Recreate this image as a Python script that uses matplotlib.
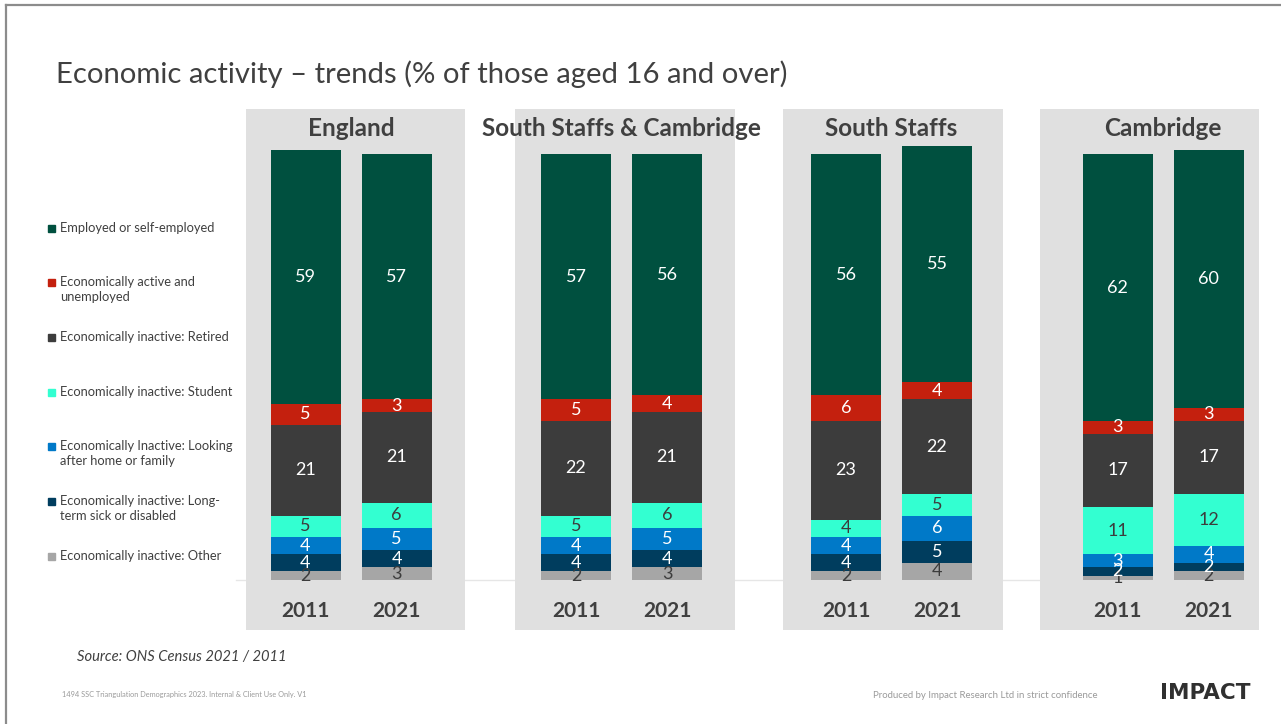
import numpy as np
import matplotlib
matplotlib.use("Agg")
import matplotlib.pyplot as plt
from matplotlib.lines import Line2D
from matplotlib.patches import Rectangle

plt.rcParams['font.family'] = ['Lato', 'DejaVu Sans']

W, H = 1281, 724

regions = ["England", "South Staffs & Cambridge", "South Staffs", "Cambridge"]
years = ["2011", "2021"]

categories = [
    "Employed or self-employed",
    "Economically active and\nunemployed",
    "Economically inactive: Retired",
    "Economically inactive: Student",
    "Economically Inactive: Looking\nafter home or family",
    "Economically inactive: Long-\nterm sick or disabled",
    "Economically inactive: Other",
]

# one value per bar: England 2011, 2021, SS&C 2011, 2021, South Staffs 2011, 2021, Cambridge 2011, 2021
employed = [59, 57, 57, 56, 56, 55, 62, 60]
unemployed = [5, 3, 5, 4, 6, 4, 3, 3]
retired = [21, 21, 22, 21, 23, 22, 17, 17]
student = [5, 6, 5, 6, 4, 5, 11, 12]
home = [4, 5, 4, 5, 4, 6, 3, 4]
sick = [4, 4, 4, 4, 4, 5, 2, 2]
other = [2, 3, 2, 3, 2, 4, 1, 2]

series = [employed, unemployed, retired, student, home, sick, other]
colors = ["#00503F", "#C4200E", "#3C3C3C", "#33FFD1", "#0079C8", "#003D5E", "#A6A6A6"]
label_colors = ["white", "white", "white", "#3C3C3C", "white", "white", "#3C3C3C"]

# panel boxes and bar centres in pixels
panels = [(246, 465, 305.5), (515, 735, 576), (783, 1003, 846), (1040, 1259, 1117.5)]
top, bottom = 109, 630
base_y, full_y = 580, 150
step = 91
ppu = (base_y - full_y) / 100.0


def fx(x):
    return x / W


def fy(y):
    return 1 - y / H


fig = plt.figure(figsize=(W / 100, H / 100), dpi=100)

# slide frame
fig.add_artist(Line2D([fx(6), 1], [fy(5), fy(5)], color="#8C8C8C", lw=1.6))
fig.add_artist(Line2D([fx(6), fx(6)], [fy(5), 0], color="#8C8C8C", lw=1.6))

# faint baseline behind the panels
fig.add_artist(Line2D([fx(236), fx(1045)], [fy(base_y), fy(base_y)],
                      color="#E6E6E6", lw=1, zorder=-1))

fig.text(fx(56), fy(74), "Economic activity \u2013 trends (% of those aged 16 and over)",
         fontsize=21.1, color="#404040", va="center", ha="left")

for p, (left, right, c0) in enumerate(panels):
    ax = fig.add_axes([fx(left), fy(bottom), (right - left) / W, (bottom - top) / H])
    ax.set_facecolor("#E0E0E0")
    ax.set_xlim((left - c0) / step, (right - c0) / step)
    ax.set_ylim((base_y - bottom) / ppu, 100 + (full_y - top) / ppu)
    for s in ax.spines.values():
        s.set_visible(False)
    ax.set_xticks([])
    ax.set_yticks([])

    idx = [2 * p, 2 * p + 1]
    x = np.arange(2)
    bot = np.zeros(2)
    # stack from the bottom: other first, employed last
    for k in range(len(series) - 1, -1, -1):
        vals = np.array([series[k][i] for i in idx], dtype=float)
        ax.bar(x, vals, bottom=bot, width=70 / step, color=colors[k], zorder=2)
        for xi, v, b in zip(x, vals, bot):
            ax.text(xi, b + v / 2, f"{v:.0f}", ha="center", va="center",
                    fontsize=13, color=label_colors[k], zorder=3)
        bot += vals

    ax.text(0.5, 100 + (full_y - 129) / ppu, regions[p], ha="center", va="center",
            fontsize=17.5, fontweight="bold", color="#404040", clip_on=False)
    for xi, yr in zip(x, years):
        ax.text(xi, (base_y - 611) / ppu, yr, ha="center", va="center",
                fontsize=15, fontweight="bold", color="#404040")

# legend
leg_y = [228, 282, 337, 392, 446, 501, 556]
for k, (lab, ly) in enumerate(zip(categories, leg_y)):
    fig.add_artist(Rectangle((fx(48), fy(ly + 4)), 7 / W, 7 / H, color=colors[k]))
    fig.text(fx(60), fy(ly - 6), lab, fontsize=9.3, color="#404040",
             va="top", ha="left", linespacing=1.3)

fig.text(fx(77), fy(657), "Source: ONS Census 2021 / 2011", fontsize=10.6,
         style="italic", color="#404040", va="center")
fig.text(fx(62), fy(695), "1494 SSC Triangulation Demographics 2023. Internal & Client Use Only. V1",
         fontsize=5.3, color="#9A9A9A", va="center")
fig.text(fx(873), fy(695), "Produced by Impact Research Ltd in strict confidence",
         fontsize=6.9, color="#9A9A9A", va="center")
fig.text(fx(1160), fy(693), "IMPACT", fontsize=15.5, fontweight="bold",
         family="DejaVu Sans", color="#303030", va="center")

fig.savefig("out.png", dpi=100)
